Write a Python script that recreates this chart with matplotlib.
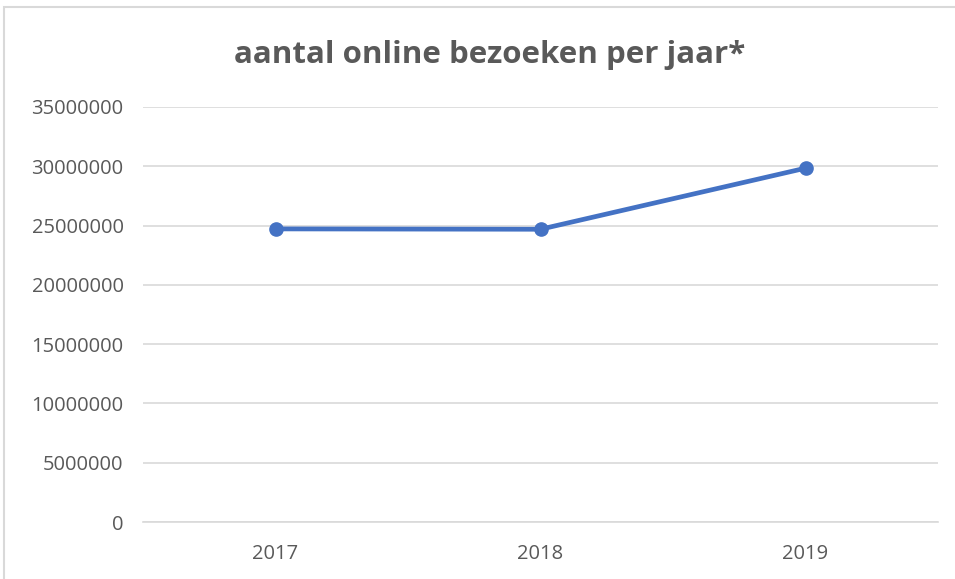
import matplotlib
matplotlib.use('Agg')
import matplotlib.pyplot as plt
from matplotlib.patches import Rectangle

# data
years = ['2017', '2018', '2019']
bezoeken = [24720000, 24690000, 29840000]
y_ticks = [0, 5000000, 10000000, 15000000, 20000000, 25000000, 30000000, 35000000]

plt.rcParams['font.family'] = ['Open Sans', 'DejaVu Sans']

fig = plt.figure(figsize=(9.55, 5.79), dpi=100)
ax = fig.add_axes([143/955, 57/579, 795/955, 415/579])

# light frame around the chart (cut off at right and bottom like the screenshot)
fig.patches.append(Rectangle((4/955, -0.05), 1.1, (579-7)/579 + 0.05, transform=fig.transFigure,
                             fill=False, edgecolor='#d9d9d9', linewidth=1.5))

x = list(range(len(years)))
ax.plot(x, bezoeken, color='#4472c4', linewidth=3.4, marker='o', markersize=9.5,
        solid_capstyle='round', zorder=3)

ax.set_xlim(-0.5, 2.5)
ax.set_ylim(0, 35000000)
ax.set_yticks(y_ticks)
ax.set_yticklabels([str(v) for v in y_ticks])
ax.set_xticks(x)
ax.set_xticklabels(years)
ax.grid(axis='y', color='#d9d9d9', linewidth=1.2)
ax.set_axisbelow(True)
for s in ['top', 'right', 'left']:
    ax.spines[s].set_visible(False)
ax.spines['bottom'].set_color('#d9d9d9')
ax.spines['bottom'].set_linewidth(1.2)
ax.tick_params(axis='both', length=0, labelsize=14.5, labelcolor='#595959')
ax.tick_params(axis='y', pad=14)
ax.tick_params(axis='x', pad=16)

fig.text(490/955, 1 - 55/579, 'aantal online bezoeken per jaar*', ha='center', va='center',
         fontsize=22.5, fontweight='bold', color='#595959')

fig.savefig('out.png', dpi=100)
